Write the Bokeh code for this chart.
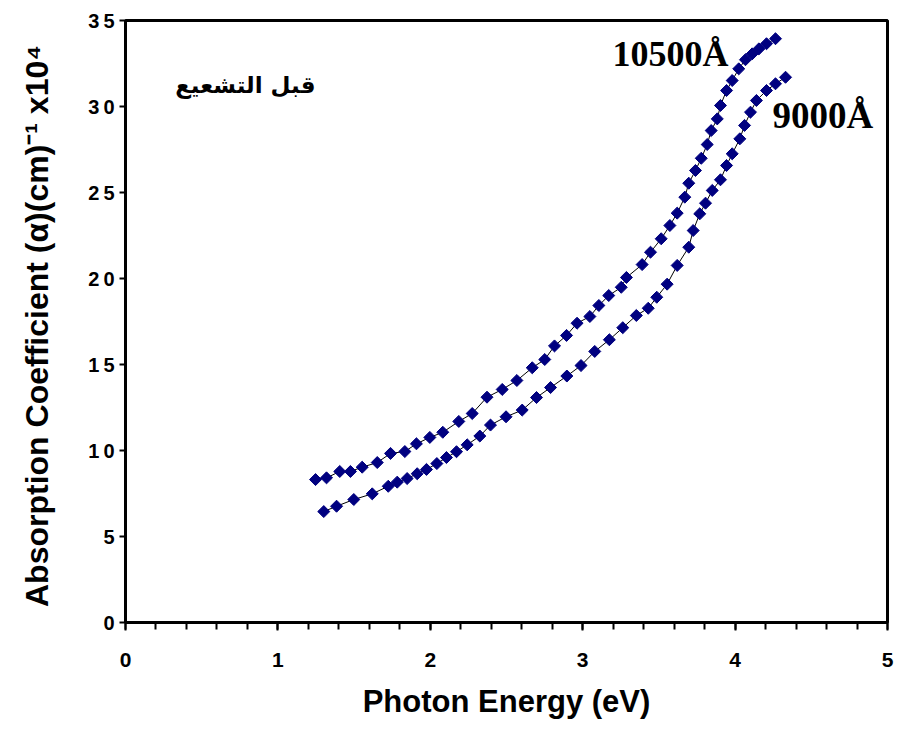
from bokeh.plotting import figure
from bokeh.models import ColumnDataSource, FixedTicker, Label, Range1d
from bokeh.embed import file_html
from bokeh.resources import INLINE
import math

# Photon energy (eV) and absorption coefficient (x10^4 cm^-1)
energy_10500 = [1.247, 1.319, 1.406, 1.476, 1.553, 1.652, 1.739, 1.833, 1.909, 1.997,
                2.082, 2.187, 2.275, 2.372, 2.472, 2.568, 2.669, 2.751, 2.815, 2.894,
                2.963, 3.047, 3.106, 3.171, 3.253, 3.287, 3.390, 3.445, 3.515, 3.572,
                3.620, 3.670, 3.696, 3.740, 3.778, 3.817, 3.843, 3.883, 3.904, 3.944,
                3.981, 4.024, 4.068, 4.112, 4.156, 4.206, 4.265]
alpha_10500 = [8.31, 8.41, 8.78, 8.78, 9.03, 9.30, 9.83, 9.94, 10.39, 10.76,
               11.06, 11.69, 12.15, 13.10, 13.55, 14.07, 14.81, 15.29, 16.08, 16.69,
               17.40, 17.79, 18.43, 19.01, 19.49, 20.06, 20.81, 21.53, 22.31, 23.08,
               23.80, 24.73, 25.54, 26.28, 26.99, 27.79, 28.60, 29.28, 30.06, 30.93,
               31.51, 32.19, 32.72, 33.06, 33.35, 33.65, 33.94]

energy_9000 = [1.301, 1.385, 1.498, 1.619, 1.724, 1.783, 1.848, 1.914, 1.975, 2.043,
               2.106, 2.172, 2.242, 2.325, 2.395, 2.497, 2.603, 2.697, 2.789, 2.896,
               2.989, 3.079, 3.175, 3.263, 3.352, 3.430, 3.486, 3.554, 3.620, 3.696,
               3.725, 3.768, 3.806, 3.850, 3.904, 3.944, 3.981, 4.031, 4.062, 4.101,
               4.140, 4.206, 4.265, 4.331]
alpha_9000 = [6.45, 6.76, 7.15, 7.48, 7.92, 8.16, 8.37, 8.65, 8.90, 9.24,
              9.59, 9.93, 10.33, 10.84, 11.48, 11.96, 12.35, 13.08, 13.66, 14.33,
              14.94, 15.76, 16.44, 17.14, 17.85, 18.27, 18.91, 19.67, 20.76, 21.82,
              22.79, 23.76, 24.38, 25.12, 25.74, 26.57, 27.25, 28.12, 28.90, 29.67,
              30.35, 30.93, 31.32, 31.70]

series_names = ["10500Å", "9000Å"]
x_ticks = [0, 1, 2, 3, 4, 5]
y_ticks = [0, 5, 10, 15, 20, 25, 30, 35]
y_tick_labels = ["0", "5", "1\u20090", "1\u20095", "2\u20090", "2\u20095", "3\u20090", "3\u20095"]
note_text = "قبل التشعيع"

p = figure(width=899, height=731, output_backend="svg", toolbar_location=None,
           x_range=Range1d(0, 5), y_range=Range1d(0, 35),
           min_border_left=125, min_border_right=12, min_border_top=20, min_border_bottom=109)
p.background_fill_color = "white"
p.border_fill_color = "white"
p.grid.visible = False
p.outline_line_color = "black"
p.outline_line_width = 3

src_a = ColumnDataSource(dict(x=energy_10500, y=alpha_10500))
src_b = ColumnDataSource(dict(x=energy_9000, y=alpha_9000))
for src in (src_a, src_b):
    p.line("x", "y", source=src, line_color="black", line_width=1)
    p.scatter("x", "y", source=src, marker="square", size=8.5, angle=math.pi / 4,
              fill_color="#000080", line_color="#000080", line_width=1)

# x axis
xa = p.xaxis[0]
xa.ticker = FixedTicker(ticks=x_ticks, minor_ticks=[i / 5 for i in range(26)])
xa.axis_line_width = 3
xa.major_tick_line_width = 2
xa.minor_tick_line_width = 2
xa.major_tick_out = 8
xa.major_tick_in = 0
xa.minor_tick_out = 7
xa.minor_tick_in = 0
xa.major_label_standoff = 22
xa.major_label_text_font = "Liberation Sans"
xa.major_label_text_font_style = "bold"
xa.major_label_text_font_size = "21px"
xa.major_label_text_color = "black"
xa.axis_label = "Photon Energy (eV)"
xa.axis_label_text_font = "Liberation Sans"
xa.axis_label_text_font_style = "bold"
xa.axis_label_text_font_size = "31px"
xa.axis_label_text_color = "black"
xa.axis_label_standoff = 14

# y axis
ya = p.yaxis[0]
ya.ticker = FixedTicker(ticks=y_ticks, minor_ticks=[])
ya.major_label_overrides = {t: s for t, s in zip(y_ticks, y_tick_labels)}
ya.axis_line_width = 3
ya.major_tick_line_width = 2
ya.major_tick_out = 6
ya.major_tick_in = 0
ya.minor_tick_out = 0
ya.minor_tick_in = 0
ya.major_label_standoff = 5
ya.major_label_text_font = "Liberation Sans"
ya.major_label_text_font_style = "bold"
ya.major_label_text_font_size = "20px"
ya.major_label_text_color = "black"
ya.axis_label = "Absorption Coefficient (\u03b1)(cm)\u207b\u00b9  x10\u2074"
ya.axis_label_text_font = "Liberation Sans"
ya.axis_label_text_font_style = "bold"
ya.axis_label_text_font_size = "32px"
ya.axis_label_text_color = "black"
ya.axis_label_standoff = 30

# series labels anchored to the last point of each series
p.add_layout(Label(x=energy_10500[-1], y=alpha_10500[-1], text=series_names[0],
                   x_offset=-47, y_offset=-15, text_align="right", text_baseline="alphabetic",
                   text_font="Liberation Serif", text_font_style="bold", text_font_size="36px",
                   text_color="black"))
p.add_layout(Label(x=energy_9000[-1], y=alpha_9000[-1], text=series_names[1],
                   x_offset=-13, y_offset=-38, text_align="left", text_baseline="alphabetic",
                   text_font="Liberation Serif", text_font_style="bold", text_font_size="37px",
                   text_color="black"))
p.add_layout(Label(x=1.247, y=31.25, text=note_text, text_align="right",
                   text_baseline="alphabetic", text_font="DejaVu Sans",
                   text_font_style="bold", text_font_size="23px", text_color="black"))

open("out.html", "w").write(file_html(p, INLINE))
